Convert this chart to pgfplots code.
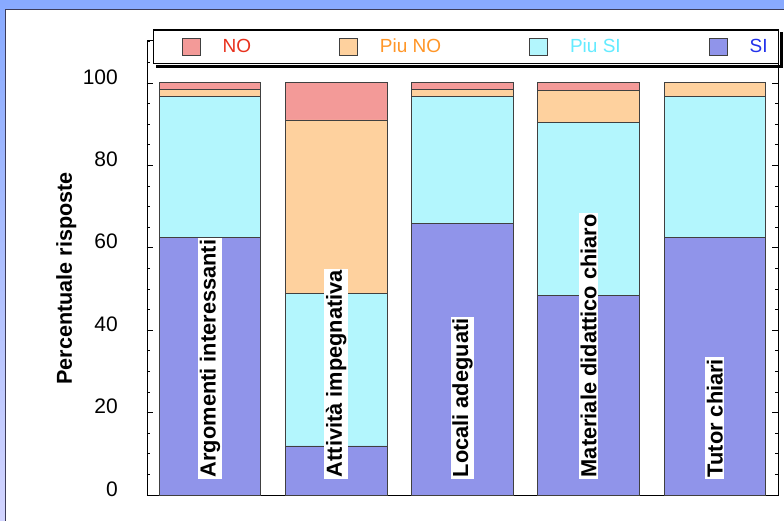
\documentclass[border=0pt]{standalone}
\usepackage{pgfplots}
\pgfplotsset{compat=1.18}
\usepackage{fontspec}
\setmainfont{Liberation Sans}
\definecolor{cSI}{RGB}{144,148,234}
\definecolor{cPSI}{RGB}{179,246,253}
\definecolor{cPNO}{RGB}{254,209,158}
\definecolor{cNO}{RGB}{243,154,152}
\definecolor{tNO}{RGB}{232,50,30}
\definecolor{tPNO}{RGB}{255,150,40}
\definecolor{tPSI}{RGB}{100,235,255}
\definecolor{tSI}{RGB}{35,50,235}
\definecolor{bgtop}{RGB}{136,170,255}
\definecolor{bgbot}{RGB}{210,212,255}
\definecolor{frame}{RGB}{60,60,90}
\tikzset{blab/.style={rotate=90, anchor=west, fill=white, inner sep=1.5pt, font=\fontsize{21.8}{21.8}\selectfont\bfseries}}
\begin{document}
\begin{tikzpicture}
\useasboundingbox (-147pt,-25pt) rectangle (637pt,495pt);
\shade[top color=bgtop, bottom color=bgbot] (-147pt,-25pt) rectangle (637pt,495pt);
\draw[fill=white, draw=frame, line width=0.8pt] (-141.5pt,-40pt) rectangle (650pt,485.5pt);
\begin{axis}[
  at={(0pt,0pt)}, anchor=south west,
  scale only axis, width=631pt, height=455pt,
  ybar stacked, bar width=0.805,
  xmin=-0.5, xmax=4.5, ymin=0, ymax=110.4,
  xtick=\empty,
  ytick={0,20,...,100},
  minor ytick={5,10,...,110},
  ytick pos=both, yticklabel pos=left,
  tick align=inside,
  major tick length=6pt, minor tick length=3.5pt,
  every tick/.style={black, line width=0.6pt},
  axis line style={black, line width=0.8pt},
  /pgf/number format/assume math mode=true,
  yticklabel style={font=\fontsize{21}{21}\selectfont, inner sep=0pt, xshift=-29pt, yshift=6pt},
  ylabel={Percentuale risposte},
  ylabel style={font=\fontsize{21.6}{21.6}\selectfont\bfseries, at={(axis description cs:-0.128,0.476)}, anchor=center},
  legend columns=4,
  reverse legend,
  legend image code/.code={\path (0pt,0pt); \draw[#1, line width=0.8pt, draw=black!75] (17pt,-8.5pt) rectangle (35pt,8.5pt);},
  legend style={
    name=leg,
    at={(axis description cs:0.0095,1.024)}, anchor=north west,
    draw=black, line width=1.5pt, fill=white,
    inner xsep=11pt, inner ysep=8pt,
    font=\fontsize{19}{19}\selectfont,
    nodes={inner sep=0pt},
    /tikz/every odd column/.append style={column sep=22pt},
    /tikz/every even column/.append style={column sep=71pt},
  },
]
\addplot[fill=cSI, draw=black!75, line width=0.9pt] coordinates {(0,62.6) (1,11.9) (2,65.8) (3,48.3) (4,62.6)};
\addlegendentry{\textcolor{tSI}{SI}}
\addplot[fill=cPSI, draw=black!75, line width=0.9pt] coordinates {(0,34.0) (1,37.1) (2,30.8) (3,42.2) (4,34.2)};
\addlegendentry{\textcolor{tPSI}{Piu SI}}
\addplot[fill=cPNO, draw=black!75, line width=0.9pt] coordinates {(0,1.9) (1,42.0) (2,1.9) (3,7.6) (4,3.2)};
\addlegendentry{\textcolor{tPNO}{Piu NO}}
\addplot[fill=cNO, draw=black!75, line width=0.9pt] coordinates {(0,1.5) (1,9.0) (2,1.5) (3,1.9) (4,0)};
\addlegendentry{\textcolor{tNO}{NO}}
\coordinate (l0) at (axis cs:0,3.9);
\coordinate (l1) at (axis cs:1,3.9);
\coordinate (l2) at (axis cs:2,3.9);
\coordinate (l3) at (axis cs:3,3.9);
\coordinate (l4) at (axis cs:4,3.9);
\end{axis}
\node[blab] at (l0) {Argomenti interessanti};
\node[blab] at (l1) {Attività impegnativa};
\node[blab] at (l2) {Locali adeguati};
\node[blab] at (l3) {Materiale didattico chiaro};
\node[blab] at (l4) {Tutor chiari};
\fill[black] ([shift={(0.75pt,-3pt)}]leg.north east) rectangle ([shift={(3.75pt,-3.75pt)}]leg.south east);
\fill[black] ([shift={(3pt,-0.75pt)}]leg.south west) rectangle ([shift={(3.75pt,-3.75pt)}]leg.south east);
\end{tikzpicture}
\end{document}
